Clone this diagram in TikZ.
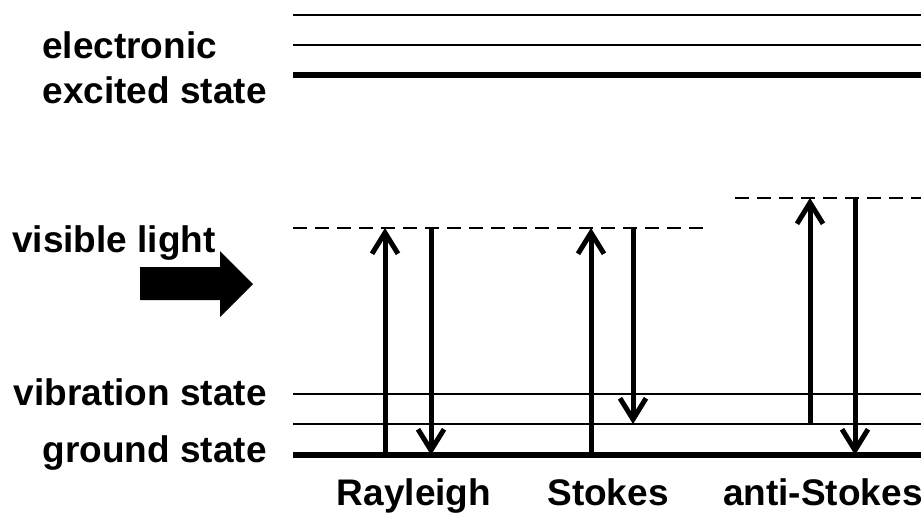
\documentclass[tikz,border=0pt]{standalone}
\usepackage{fontspec}
\setmainfont{Liberation Sans}
\usetikzlibrary{arrows.meta}
\begin{document}
\begin{tikzpicture}[x=1pt,y=-1pt,
  lbl/.style={font=\fontsize{37}{40}\bfseries\selectfont, inner sep=0pt},
  thinlevel/.style={line width=2.5pt},
  thicklevel/.style={line width=6pt},
  virt/.style={line width=2.2pt, dash pattern=on 14pt off 8pt},
  trans/.style={line width=5pt, -{Straight Barb[length=21pt,width=26pt]}}]
\useasboundingbox (0,0) rectangle (921,523);
% levels
\coordinate (e1l) at (293,15);  \coordinate (e1r) at (921,15);
\coordinate (e2l) at (293,45);  \coordinate (e2r) at (921,45);
\coordinate (e3l) at (293,75);  \coordinate (e3r) at (921,75);
\coordinate (v1l) at (293,228); \coordinate (v1r) at (705,228);
\coordinate (v2l) at (735,198); \coordinate (v2r) at (921,198);
\coordinate (b1l) at (293,394); \coordinate (b1r) at (921,394);
\coordinate (b2l) at (293,424); \coordinate (b2r) at (921,424);
\coordinate (gl) at (293,455);  \coordinate (gr) at (921,455);
\draw[thinlevel] (e1l) -- (e1r);
\draw[thinlevel] (e2l) -- (e2r);
\draw[thicklevel] (e3l) -- (e3r);
\draw[virt] (v1l) -- (v1r);
\draw[virt] (v2l) -- (v2r);
\draw[thinlevel] (b1l) -- (b1r);
\draw[thinlevel] (b2l) -- (b2r);
\draw[thicklevel] (gl) -- (gr);
% transitions
\coordinate (ra0) at (385,455); \coordinate (ra1) at (385,228);
\coordinate (rb0) at (431,228); \coordinate (rb1) at (431,455);
\coordinate (sa0) at (591,455); \coordinate (sa1) at (591,228);
\coordinate (sb0) at (633,228); \coordinate (sb1) at (633,424);
\coordinate (aa0) at (810,424); \coordinate (aa1) at (810,198);
\coordinate (ab0) at (855,198); \coordinate (ab1) at (855,455);
\draw[trans] (ra0) -- (ra1);
\draw[trans] (rb0) -- (rb1);
\draw[trans] (sa0) -- (sa1);
\draw[trans] (sb0) -- (sb1);
\draw[trans] (aa0) -- (aa1);
\draw[trans] (ab0) -- (ab1);
% big arrow
\fill (140,267) -- (220,267) -- (220,251) -- (253,284) -- (220,317) -- (220,300) -- (140,300) -- cycle;
% labels
\node[lbl, anchor=base west] (tel) at (42,58) {electronic};
\node[lbl, anchor=base east] (tex) at (267,103) {excited state};
\node[lbl, anchor=base west] (tvl) at (12,252) {visible light};
\node[lbl, anchor=base east] (tvs) at (267,405) {vibration state};
\node[lbl, anchor=base east] (tgs) at (267,462) {ground state};
\node[lbl, anchor=base] (tra) at (414,505) {Rayleigh};
\node[lbl, anchor=base] (tst) at (608,505) {Stokes};
\node[lbl, anchor=base west] (tas) at (723,505) {anti-Stokes};
\end{tikzpicture}
\end{document}
